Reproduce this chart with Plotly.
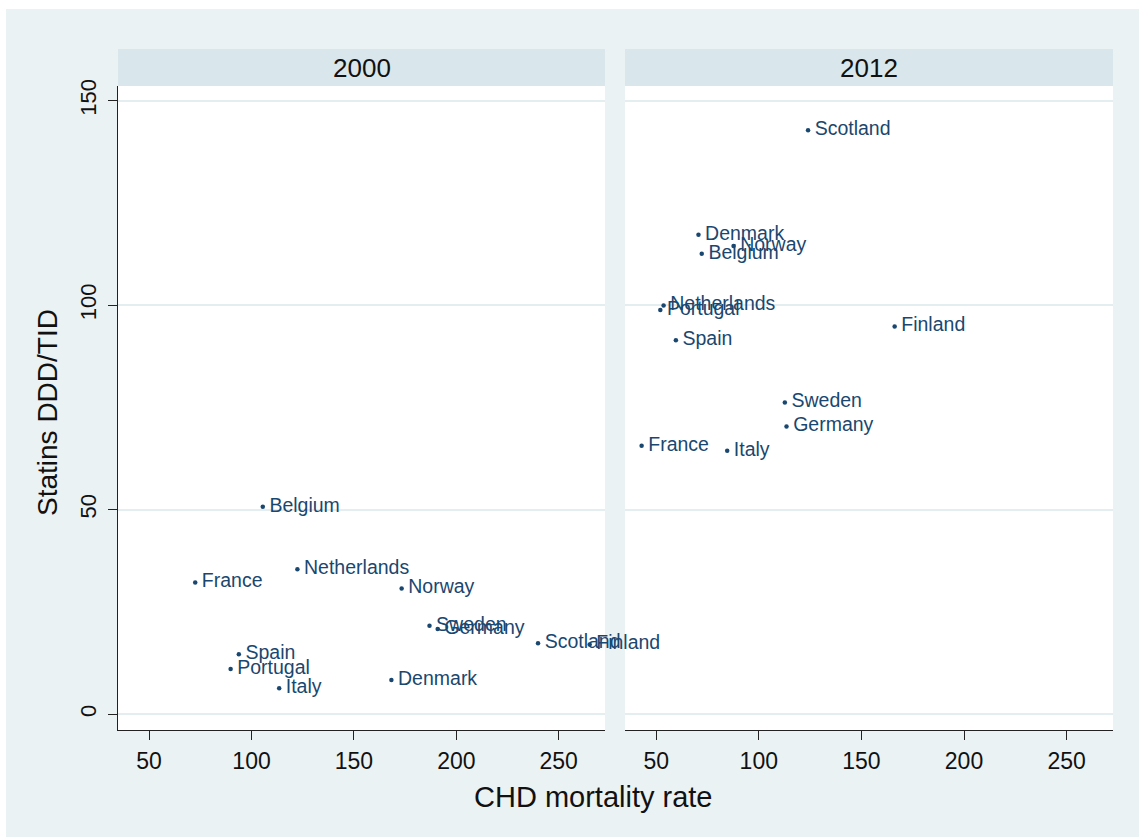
import plotly.graph_objects as go

# Country labels and values for each survey year
countries_2000 = ["Belgium", "France", "Netherlands", "Norway", "Sweden", "Germany",
                  "Scotland", "Finland", "Spain", "Portugal", "Italy", "Denmark"]
chd_2000 = [105.5, 72.5, 122.4, 173.3, 186.9, 190.9, 239.9, 265.1, 93.8, 89.8, 113.5, 168.3]
statins_2000 = [50.7, 32.2, 35.4, 30.7, 21.6, 20.8, 17.3, 17.0, 14.6, 11.0, 6.3, 8.3]

countries_2012 = ["Scotland", "Denmark", "Norway", "Belgium", "Netherlands", "Portugal",
                  "Spain", "Finland", "Sweden", "Germany", "France", "Italy"]
chd_2012 = [124.0, 70.6, 87.7, 72.2, 53.6, 52.0, 59.6, 166.2, 112.7, 113.5, 42.9, 84.6]
statins_2012 = [142.8, 117.2, 114.5, 112.6, 99.9, 98.8, 91.4, 94.8, 76.2, 70.3, 65.6, 64.4]

panel_titles = ["2000", "2012"]
x_ticks = [50, 100, 150, 200, 250]
y_ticks = [0, 50, 100, 150]

NAVY = "#1a476f"
BG = "#eaf2f3"
STRIP = "#d9e6eb"
FONT = "Arial, Liberation Sans, Helvetica, sans-serif"

W, H = 1139, 837
L, R, T, B = 118, 26, 86, 107
PW = W - L - R
PH = H - T - B


def px_to_paper_x(px):
    return (px - L) / PW


def py_to_paper_y(py):
    return (H - B - py) / PH


fig = go.Figure()

text_style = dict(family=FONT, size=19.5, color=NAVY)

for xs, ys, names, xa, ya in [(chd_2000, statins_2000, countries_2000, "x", "y"),
                              (chd_2012, statins_2012, countries_2012, "x2", "y2")]:
    # small dots
    fig.add_trace(go.Scatter(
        x=xs, y=ys, mode="markers", marker=dict(size=4.5, color=NAVY),
        xaxis=xa, yaxis=ya, hoverinfo="skip", showlegend=False))
    # labels to the right of each dot (invisible wider marker sets the gap)
    fig.add_trace(go.Scatter(
        x=xs, y=ys, text=names, mode="markers+text", textposition="middle right",
        marker=dict(size=9, color="rgba(0,0,0,0)"), textfont=text_style,
        cliponaxis=False, xaxis=xa, yaxis=ya, hoverinfo="skip", showlegend=False))

dom1 = [0, px_to_paper_x(605)]
dom2 = [px_to_paper_x(625), 1]
xrange_ = [34.8, 272.6]
yrange_ = [-3.9, 153.6]

xaxis_common = dict(
    range=xrange_, tickvals=x_ticks, ticks="outside", ticklen=9, tickwidth=1.3,
    tickcolor="#222", showline=True, linecolor="#222", linewidth=1.3,
    showgrid=False, zeroline=False, tickfont=dict(family=FONT, size=23, color="#111"),
    ticklabelstandoff=1)

fig.update_layout(
    width=W, height=H,
    margin=dict(l=L, r=R, t=T, b=B, pad=0),
    paper_bgcolor=BG, plot_bgcolor="white",
    font=dict(family=FONT, color="#111"),
    xaxis=dict(domain=dom1, anchor="y", **xaxis_common),
    xaxis2=dict(domain=dom2, anchor="y2", **xaxis_common),
    yaxis=dict(domain=[0, 1], anchor="x", range=yrange_, tickvals=y_ticks,
               ticks="outside", ticklen=9, tickwidth=1.3, tickcolor="#222",
               showline=True, linecolor="#222", linewidth=1.3,
               showgrid=True, gridcolor="#e4edf0", gridwidth=1.6, zeroline=False,
               tickangle=-90, tickfont=dict(family=FONT, size=22, color="#111"),
               ticklabelstandoff=3),
    yaxis2=dict(domain=[0, 1], anchor="x2", matches="y", range=yrange_,
                tickvals=y_ticks, showticklabels=False, ticks="",
                showline=False, showgrid=True, gridcolor="#e4edf0", gridwidth=1.6,
                zeroline=False),
)

shapes = []
annotations = []
# Panel header strips
for dom, title in zip([dom1, dom2], panel_titles):
    shapes.append(dict(type="rect", xref="paper", yref="paper",
                       x0=dom[0], x1=dom[1], y0=1, y1=py_to_paper_y(49),
                       fillcolor=STRIP, line=dict(width=0), layer="above"))
    annotations.append(dict(text=title, xref="paper", yref="paper",
                            x=(dom[0] + dom[1]) / 2, y=py_to_paper_y(68),
                            showarrow=False, xanchor="center", yanchor="middle",
                            font=dict(family=FONT, size=26, color="#111")))

# Thin white border along the left and top edges
shapes.append(dict(type="rect", xref="paper", yref="paper",
                   x0=px_to_paper_x(-2), x1=px_to_paper_x(6),
                   y0=py_to_paper_y(H + 2), y1=py_to_paper_y(-2),
                   fillcolor="white", line=dict(width=0)))
shapes.append(dict(type="rect", xref="paper", yref="paper",
                   x0=px_to_paper_x(-2), x1=px_to_paper_x(W + 2),
                   y0=py_to_paper_y(9), y1=py_to_paper_y(-2),
                   fillcolor="white", line=dict(width=0)))

# Axis titles
annotations.append(dict(text="CHD mortality rate", xref="paper", yref="paper",
                        x=px_to_paper_x(593), y=py_to_paper_y(797),
                        showarrow=False, xanchor="center", yanchor="middle",
                        font=dict(family=FONT, size=29, color="#111")))
annotations.append(dict(text="Statins DDD/TID", xref="paper", yref="paper",
                        x=px_to_paper_x(47), y=py_to_paper_y(413),
                        showarrow=False, xanchor="center", yanchor="middle",
                        textangle=-90,
                        font=dict(family=FONT, size=28, color="#111")))

fig.update_layout(shapes=shapes, annotations=annotations)

fig.write_html("out.html")
